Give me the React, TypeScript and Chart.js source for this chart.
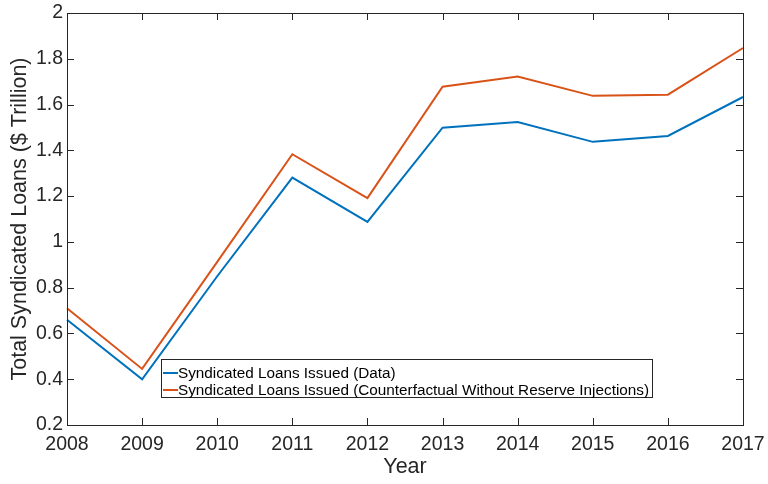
import React, { useEffect, useRef } from "react";
import { Chart, registerables } from "chart.js";

Chart.register(...registerables);

const years = ["2008", "2009", "2010", "2011", "2012", "2013", "2014", "2015", "2016", "2017"];
const dataSeries = [0.66, 0.40, 0.85, 1.281, 1.087, 1.499, 1.524, 1.437, 1.463, 1.633];
const counterfactual = [0.71, 0.445, 0.913, 1.383, 1.191, 1.678, 1.722, 1.638, 1.643, 1.847];
const seriesNames = [
  "Syndicated Loans Issued (Data)",
  "Syndicated Loans Issued (Counterfactual Without Reserve Injections)",
];
const xTitle = "Year";
const yTitle = "Total Syndicated Loans ($ Trillion)";

const BLUE = "#0072BD";
const ORANGE = "#D95319";
const AXIS = "#262626";
const FONT = "'Liberation Sans', Arial, Helvetica, sans-serif";

const boxPlugin = {
  id: "matlabBox",
  afterDraw(chart: any) {
    const { ctx, chartArea: a, scales } = chart;
    const xs = scales.x;
    const ys = scales.y;
    ctx.save();
    ctx.strokeStyle = AXIS;
    ctx.lineWidth = 1;
    ctx.strokeRect(Math.round(a.left) + 0.5, Math.round(a.top) + 0.5, Math.round(a.right - a.left), Math.round(a.bottom - a.top));
    const tl = 7;
    ctx.beginPath();
    xs.ticks.forEach((_t: any, i: number) => {
      const px = Math.round(xs.getPixelForTick(i)) + 0.5;
      ctx.moveTo(px, a.bottom);
      ctx.lineTo(px, a.bottom - tl);
      ctx.moveTo(px, a.top);
      ctx.lineTo(px, a.top + tl);
    });
    ys.ticks.forEach((_t: any, i: number) => {
      const py = Math.round(ys.getPixelForTick(i)) + 0.5;
      ctx.moveTo(a.left, py);
      ctx.lineTo(a.left + tl, py);
      ctx.moveTo(a.right, py);
      ctx.lineTo(a.right - tl, py);
    });
    ctx.stroke();

    ctx.fillStyle = AXIS;
    ctx.font = `21.5px ${FONT}`;
    ctx.textAlign = "center";
    ctx.textBaseline = "middle";
    ctx.fillText(xTitle, (a.left + a.right) / 2, 467);
    ctx.save();
    ctx.translate(20, (a.top + a.bottom) / 2);
    ctx.rotate(-Math.PI / 2);
    ctx.fillText(yTitle, 0, 0);
    ctx.restore();

    const lx = 161, ly = 359, lw = 491, lh = 38;
    ctx.fillStyle = "#ffffff";
    ctx.fillRect(lx, ly, lw, lh);
    ctx.strokeStyle = AXIS;
    ctx.lineWidth = 1;
    ctx.strokeRect(lx + 0.5, ly + 0.5, lw, lh);
    const colors = [BLUE, ORANGE];
    const rows = [373, 390];
    ctx.font = `15.3px ${FONT}`;
    ctx.textAlign = "left";
    ctx.textBaseline = "middle";
    seriesNames.forEach((name, i) => {
      ctx.strokeStyle = colors[i];
      ctx.lineWidth = 2;
      ctx.beginPath();
      ctx.moveTo(lx + 2, rows[i]);
      ctx.lineTo(lx + 17, rows[i]);
      ctx.stroke();
      ctx.fillStyle = "#000000";
      ctx.fillText(name, lx + 17, rows[i] + 1);
    });
    ctx.restore();
  },
};

export default function App() {
  const ref = useRef<HTMLCanvasElement>(null);
  useEffect(() => {
    if (!ref.current) return;
    const chart = new Chart(ref.current, {
      type: "line",
      data: {
        labels: years,
        datasets: [
          { label: seriesNames[0], data: dataSeries, borderColor: BLUE, borderWidth: 2, pointRadius: 0, fill: false, tension: 0 },
          { label: seriesNames[1], data: counterfactual, borderColor: ORANGE, borderWidth: 2, pointRadius: 0, fill: false, tension: 0 },
        ],
      },
      options: {
        animation: false,
        responsive: false,
        layout: { padding: { left: 0, top: 13, right: 25, bottom: 0 } },
        plugins: { legend: { display: false }, tooltip: { enabled: false } },
        scales: {
          x: {
            offset: false,
            grid: { display: false, drawTicks: false },
            border: { display: false },
            ticks: { color: AXIS, font: { family: FONT, size: 19.5 }, padding: 8, maxRotation: 0, autoSkip: false },
            afterFit: (s: any) => { s.height = 59; s.paddingLeft = 0; s.paddingRight = 0; },
          },
          y: {
            min: 0.2,
            max: 2,
            grid: { display: false, drawTicks: false },
            border: { display: false },
            ticks: {
              stepSize: 0.2,
              color: AXIS,
              font: { family: FONT, size: 19.5 },
              padding: 4,
              callback: (v: any) => String(Number(Number(v).toFixed(1))),
            },
            afterFit: (s: any) => { s.width = 67; s.paddingTop = 0; s.paddingBottom = 0; },
          },
        },
      },
      plugins: [boxPlugin],
    } as any);
    return () => chart.destroy();
  }, []);
  return (
    <div style={{ position: "fixed", left: 0, top: 0, width: 768, height: 484, background: "#fff" }}>
      <canvas ref={ref} width={768} height={484} style={{ width: 768, height: 484 }} />
    </div>
  );
}
